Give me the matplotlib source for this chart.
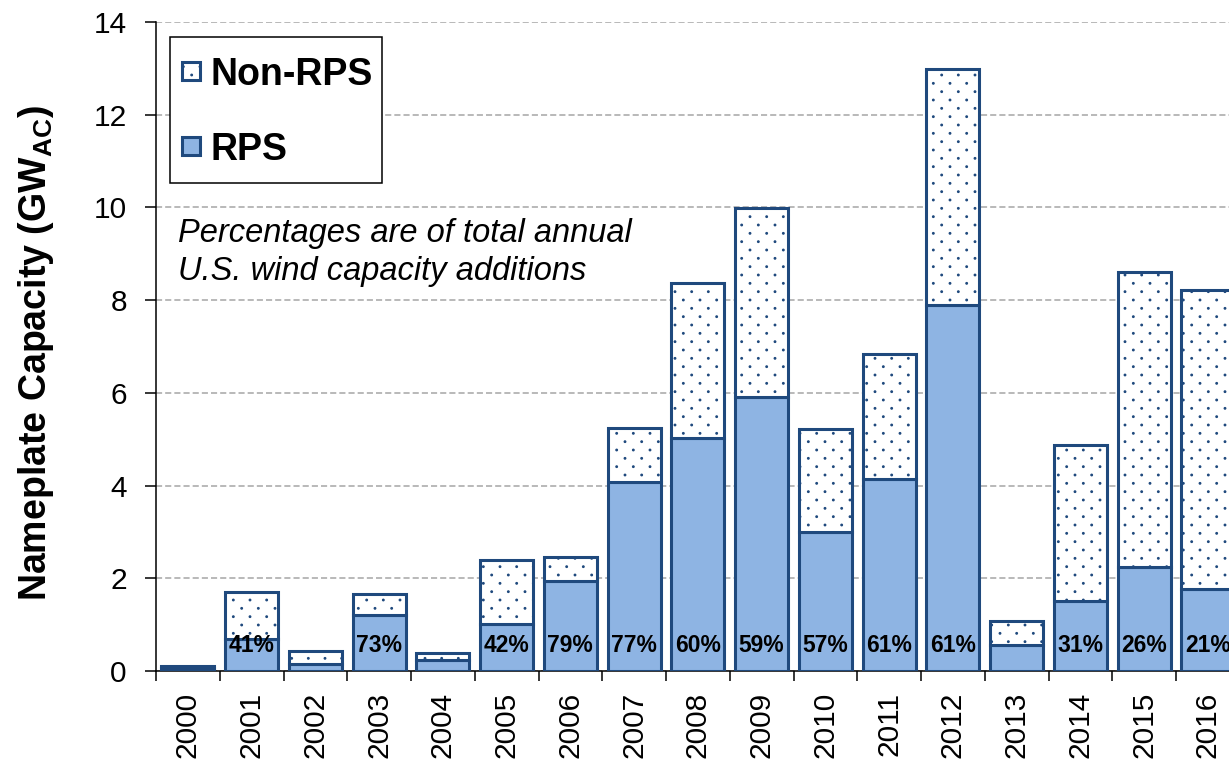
import numpy as np
import matplotlib
matplotlib.use("Agg")
import matplotlib.pyplot as plt
import matplotlib.hatch as mhatch
from matplotlib.path import Path
from matplotlib.patches import Patch, Rectangle
from matplotlib.legend_handler import HandlerPatch
from matplotlib.ticker import FixedLocator, NullFormatter

# ---------------- data ----------------
years = [str(y) for y in range(2000, 2017)]
rps = [0.06, 0.70, 0.15, 1.21, 0.24, 1.01, 1.94, 4.07, 5.02, 5.90, 3.00, 4.15, 7.90, 0.57, 1.52, 2.24, 1.77]
total = [0.10, 1.71, 0.44, 1.67, 0.39, 2.39, 2.46, 5.24, 8.38, 9.99, 5.22, 6.84, 12.99, 1.08, 4.87, 8.60, 8.22]
non_rps = [t - r for t, r in zip(total, rps)]
pct_labels = [None, "41%", None, "73%", None, "42%", "79%", "77%", "60%", "59%",
              "57%", "61%", "61%", None, "31%", "26%", "21%"]
yticks = [0, 2, 4, 6, 8, 10, 12, 14]
note_lines = ['Percentages are of total annual', 'U.S. wind capacity additions']

# ---------------- sparse staggered dot hatch ----------------
class SparseDots(mhatch.HatchPatternBase):
    def __init__(self, hatch, density):
        n = hatch.count('.')
        if n == 0:
            self.num_vertices = 0
            return
        ncol = n * density
        nrow = 2 * ncol
        circ = Path.unit_circle()
        self.sv = circ.vertices * 0.008
        self.sc = circ.codes
        centers = []
        for r in range(nrow + 1):
            yy = r / nrow
            if r % 2 == 0:
                xs = np.linspace(0, 1, ncol + 1)
            else:
                xs = np.linspace(0.5 / ncol, 1 - 0.5 / ncol, ncol)
            centers += [(xv, yy) for xv in xs]
        self.centers = np.array(centers)
        self.num_vertices = len(self.centers) * len(self.sv)

    def set_vertices_and_codes(self, vertices, codes):
        vertices[:] = np.concatenate([self.sv + c for c in self.centers])
        codes[:] = np.tile(self.sc, len(self.centers))

mhatch._hatch_types = [SparseDots if t is mhatch.SmallFilledCircles else t
                       for t in mhatch._hatch_types]

# ---------------- style ----------------
plt.rcParams['font.family'] = ['Liberation Sans', 'DejaVu Sans']
plt.rcParams['mathtext.fontset'] = 'custom'
plt.rcParams['mathtext.rm'] = 'Liberation Sans'
plt.rcParams['mathtext.bf'] = 'Liberation Sans:bold'
plt.rcParams['hatch.linewidth'] = 0.9

dark = '#1F497D'
light = '#8EB4E3'

fig = plt.figure(figsize=(12.29, 7.64), dpi=100)
ax = fig.add_axes([156 / 1229, 93 / 764, 1083.75 / 1229, 649 / 764])

x = np.arange(len(years))
w = 0.83
ax.bar(x, rps, w, color=light, edgecolor=dark, linewidth=2.2, zorder=3)
ax.bar(x, non_rps, w, bottom=rps, color='white', edgecolor=dark, linewidth=2.2,
       hatch='.', zorder=3)

for i, lab in enumerate(pct_labels):
    if lab:
        ax.text(x[i], 0.55, lab, ha='center', va='center', fontsize=16.5,
                fontweight='bold', zorder=5)

ax.set_xlim(-0.5, len(years) - 0.5)
ax.set_ylim(0, 14)
ax.set_yticks(yticks)
ax.set_yticklabels([str(v) for v in yticks], fontsize=21.5)
ax.tick_params(axis='y', direction='out', length=8, width=1.1, pad=13)

ax.set_xticks(x)
ax.set_xticklabels(years, rotation=90, fontsize=21.5)
ax.tick_params(axis='x', which='major', length=0, pad=15)
ax.xaxis.set_minor_locator(FixedLocator(np.arange(-0.5, len(years), 1.0)))
ax.xaxis.set_minor_formatter(NullFormatter())
ax.tick_params(axis='x', which='minor', direction='out', length=7, width=1.1)

for s in ['top', 'right']:
    ax.spines[s].set_visible(False)
for s in ['left', 'bottom']:
    ax.spines[s].set_linewidth(1.1)

ax.yaxis.grid(True, linestyle=(0, (4, 2)), color='#A6A6A6', linewidth=1.1, zorder=0)
ax.set_axisbelow(True)

ax.set_ylabel(r'Nameplate Capacity (GW$_{\mathbf{AC}}$)', fontsize=27,
              fontweight='bold')
ax.yaxis.set_label_coords(-0.092, 0.49)

ax.text(-0.155, 9.25, note_lines[0], fontsize=23.5, fontstyle='italic',
        va='baseline', ha='left')
ax.text(-0.155, 8.43, note_lines[1], fontsize=23.5, fontstyle='italic',
        va='baseline', ha='left')


def small_square(legend, orig_handle, xdescent, ydescent, width, height, fontsize):
    side = 0.48 * fontsize
    cx = width / 2 - xdescent
    cy = 0.36 * fontsize
    return Rectangle((cx - side / 2, cy - side / 2), side, side)


handles = [Patch(facecolor='white', edgecolor=dark, hatch='.', linewidth=2.2),
           Patch(facecolor=light, edgecolor=dark, linewidth=2.2)]
leg = ax.legend(handles, ['Non-RPS', 'RPS'], loc='upper left',
                bbox_to_anchor=(14 / 1083.75, 1 - 15 / 649), borderaxespad=0,
                prop={'size': 27, 'weight': 'bold'}, handlelength=0.62,
                handleheight=1.78, handletextpad=0.2, labelspacing=0.6,
                borderpad=0.25, fancybox=False, framealpha=1, edgecolor='black',
                handler_map={Patch: HandlerPatch(patch_func=small_square)})
leg.get_frame().set_linewidth(1.1)
leg.set_zorder(6)

fig.savefig('out.png', dpi=100)
